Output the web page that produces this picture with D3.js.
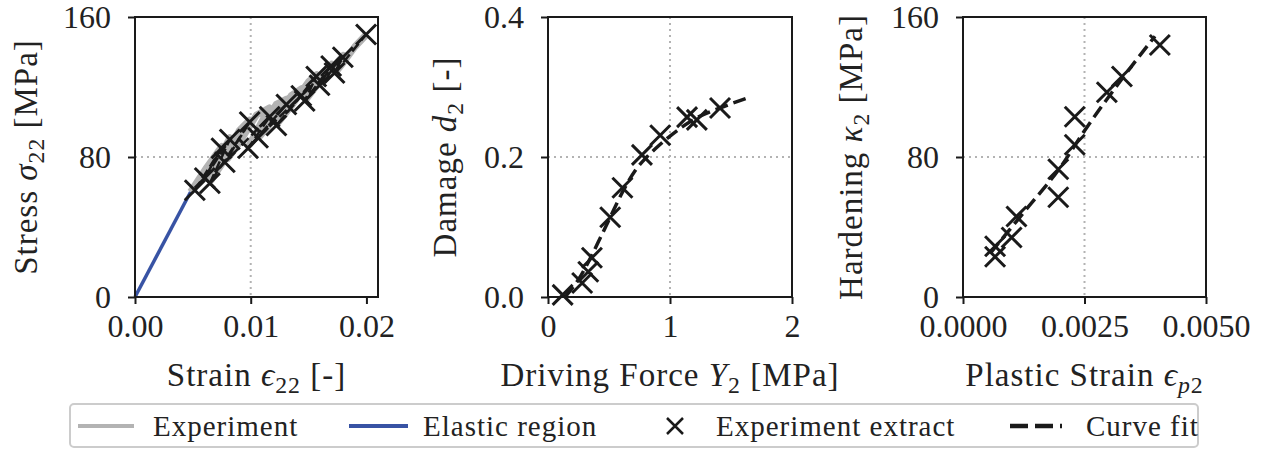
<!DOCTYPE html>
<html>
<head>
<meta charset="utf-8">
<script src="https://cdn.jsdelivr.net/npm/d3@7"></script>
<style>
  body { margin: 0; background: #fff; }
  svg text { font-family: "Liberation Serif", "DejaVu Serif", serif; fill: #222; }
</style>
</head>
<body>
<div id="chart"></div>
<script>
// Panel 1: stress-strain
const elasticStrain = [0, 0.0048];
const elasticStress = [0, 60];

const expStrain = [0.0048, 0.0062, 0.0075, 0.0064, 0.0068, 0.0082, 0.0066, 0.0075, 0.0090, 0.0099, 0.0080, 0.0088, 0.0105, 0.0116, 0.0099, 0.0108, 0.0122, 0.0131, 0.0108, 0.0118, 0.0135, 0.0144, 0.0124, 0.0136, 0.0150, 0.0157, 0.0148, 0.0156, 0.0165, 0.0170, 0.0161, 0.0168, 0.0176, 0.0180, 0.0174, 0.0180, 0.0190, 0.0200];
const expStress = [60, 74, 86, 69, 73, 91, 67, 76, 95, 101, 79, 86, 104, 108, 87, 95, 110, 113, 92, 100, 115, 119, 100, 110, 123, 127, 113, 120, 129, 133, 122, 128, 135, 138, 129, 134, 143, 150];

const extStrain = [0.00517, 0.00747, 0.00603, 0.00819, 0.00647, 0.00991, 0.00776, 0.01164, 0.00977, 0.01308, 0.01063, 0.01437, 0.01222, 0.01566, 0.01466, 0.01695, 0.01595, 0.01796, 0.01724, 0.01997];
const extStress = [61, 85, 68, 90, 65, 100, 77, 103, 85, 110, 91, 115, 98, 126, 112, 132, 121, 137, 128, 150];

// Panel 2: damage vs driving force
const dmgForce = [0.12, 0.28, 0.33, 0.36, 0.51, 0.61, 0.77, 0.92, 1.14, 1.22, 1.41];
const dmgValue = [0.003, 0.02, 0.036, 0.056, 0.114, 0.156, 0.203, 0.231, 0.257, 0.253, 0.27];
const dmgFitForce = [0.14, 0.25, 0.34, 0.43, 0.51, 0.62, 0.72, 0.81, 0.90, 0.98, 1.10, 1.22, 1.41, 1.63];
const dmgFitValue = [0.0, 0.025, 0.053, 0.085, 0.114, 0.153, 0.182, 0.200, 0.215, 0.227, 0.243, 0.256, 0.270, 0.284];

// Panel 3: hardening vs plastic strain
const hardStrain = [0.00066, 0.00066, 0.0010, 0.0011, 0.00196, 0.00196, 0.0023, 0.0023, 0.00296, 0.00327, 0.00405];
const hardValue = [23, 29, 34, 46, 57, 73, 87, 103, 117, 126, 144];
const hardFitStrain = [0.00056, 0.0013, 0.0020, 0.0025, 0.0032, 0.00395];
const hardFitValue = [25, 50, 74, 95, 122, 149];

const legendLabels = ["Experiment", "Elastic region", "Experiment extract", "Curve fit"];

const zip = (a, b) => a.map((v, i) => [v, b[i]]);

const W = 1266, H = 450;
const plotTop = 17, plotBottom = 297;
const GRAY = "#b3b3b3", BLUE = "#3853a4", INK = "#1a1a1a";
const tickFont = 32, labelFont = 33;

const svg = d3.select("#chart").append("svg")
  .attr("width", W).attr("height", H);

// write text made of pieces: plain, italic (math) and subscripts
function richText(sel, parts, size) {
  let shifted = false;
  parts.forEach(p => {
    const t = sel.append("tspan").text(p.t);
    if (p.i) t.style("font-style", "italic");
    if (p.sub) {
      t.style("font-size", (size * 0.72) + "px");
      if (!shifted) { t.attr("dy", size * 0.22); shifted = true; }
    } else if (shifted) {
      t.attr("dy", -size * 0.22); shifted = false;
    }
  });
}

function drawPanel(cfg) {
  const x = d3.scaleLinear().domain(cfg.xDomain).range([cfg.left, cfg.right]);
  const y = d3.scaleLinear().domain(cfg.yDomain).range([plotBottom, plotTop]);
  const g = svg.append("g");

  // dotted grid at middle ticks
  g.append("line")
    .attr("x1", x(cfg.xTicks[1])).attr("x2", x(cfg.xTicks[1]))
    .attr("y1", plotTop).attr("y2", plotBottom)
    .attr("stroke", GRAY).attr("stroke-width", 2).attr("stroke-dasharray", "2,4");
  g.append("line")
    .attr("x1", cfg.left).attr("x2", cfg.right)
    .attr("y1", y(cfg.yTicks[1])).attr("y2", y(cfg.yTicks[1]))
    .attr("stroke", GRAY).attr("stroke-width", 2).attr("stroke-dasharray", "2,4");

  const line = d3.line().x(d => x(d[0])).y(d => y(d[1]));

  cfg.draw(g, x, y, line);

  // frame
  g.append("rect")
    .attr("x", cfg.left).attr("y", plotTop)
    .attr("width", cfg.right - cfg.left).attr("height", plotBottom - plotTop)
    .attr("fill", "none").attr("stroke", INK).attr("stroke-width", 2);

  // axes
  const xAxis = g.append("g").attr("transform", `translate(0,${plotBottom})`)
    .call(d3.axisBottom(x).tickValues(cfg.xTicks).tickFormat(cfg.xFmt).tickSize(7).tickPadding(10));
  const yAxis = g.append("g").attr("transform", `translate(${cfg.left},0)`)
    .call(d3.axisLeft(y).tickValues(cfg.yTicks).tickFormat(cfg.yFmt).tickSize(7).tickPadding(17));
  [xAxis, yAxis].forEach(a => {
    a.attr("font-family", null);
    a.select(".domain").remove();
    a.selectAll("line").attr("stroke", INK).attr("stroke-width", 2);
    a.selectAll("text").style("font-size", tickFont + "px").attr("fill", "#222");
  });

  // axis titles
  const xl = g.append("text")
    .attr("x", (cfg.left + cfg.right) / 2).attr("y", 386)
    .attr("text-anchor", "middle").style("font-size", labelFont + "px")
    .style("letter-spacing", "1px");
  richText(xl, cfg.xLabel, labelFont);

  const yl = g.append("text")
    .attr("transform", `translate(${cfg.yLabelX},${(plotTop + plotBottom) / 2}) rotate(-90)`)
    .attr("text-anchor", "middle").style("font-size", labelFont + "px")
    .style("letter-spacing", "1px");
  richText(yl, cfg.yLabel, labelFont);
}

function crosses(g, pts, x, y) {
  const s = 10;
  g.selectAll(null).data(pts).enter().append("path")
    .attr("d", d => {
      const cx = x(d[0]), cy = y(d[1]);
      return `M${cx - s},${cy - s}L${cx + s},${cy + s}M${cx - s},${cy + s}L${cx + s},${cy - s}`;
    })
    .attr("stroke", INK).attr("stroke-width", 3).attr("fill", "none");
}

function fitLine(g, pts, line) {
  g.append("path").datum(pts)
    .attr("d", line.curve(d3.curveMonotoneX))
    .attr("fill", "none").attr("stroke", INK)
    .attr("stroke-width", 3.5).attr("stroke-dasharray", "13,6");
}

drawPanel({
  left: 135, right: 378,
  xDomain: [0, 0.021], yDomain: [0, 160],
  xTicks: [0, 0.01, 0.02], yTicks: [0, 80, 160],
  xFmt: d3.format(".2f"), yFmt: d3.format("d"),
  xLabel: [{ t: "Strain " }, { t: "\u03f5", i: true }, { t: "22", sub: true }, { t: " [-]" }],
  yLabel: [{ t: "Stress " }, { t: "\u03c3", i: true }, { t: "22", sub: true }, { t: " [MPa]" }],
  yLabelX: 37,
  draw: (g, x, y, line) => {
    g.append("path").datum(zip(expStrain, expStress))
      .attr("d", line).attr("fill", "none").attr("stroke", GRAY)
      .attr("stroke-width", 7).attr("stroke-linejoin", "round");
    g.append("path").datum(zip(elasticStrain, elasticStress))
      .attr("d", line).attr("fill", "none").attr("stroke", BLUE).attr("stroke-width", 3.5);
    g.append("path").datum(zip(extStrain, extStress))
      .attr("d", line).attr("fill", "none").attr("stroke", INK)
      .attr("stroke-width", 2.5).attr("stroke-dasharray", "10,4");
    crosses(g, zip(extStrain, extStress), x, y);
  }
});

drawPanel({
  left: 548, right: 792,
  xDomain: [0, 2], yDomain: [0, 0.4],
  xTicks: [0, 1, 2], yTicks: [0, 0.2, 0.4],
  xFmt: d3.format("d"), yFmt: d3.format(".1f"),
  xLabel: [{ t: "Driving Force " }, { t: "Y", i: true }, { t: "2", sub: true }, { t: " [MPa]" }],
  yLabel: [{ t: "Damage " }, { t: "d", i: true }, { t: "2", sub: true }, { t: " [-]" }],
  yLabelX: 456,
  draw: (g, x, y, line) => {
    crosses(g, zip(dmgForce, dmgValue), x, y);
    fitLine(g, zip(dmgFitForce, dmgFitValue), line);
  }
});

drawPanel({
  left: 963, right: 1206,
  xDomain: [0, 0.005], yDomain: [0, 160],
  xTicks: [0, 0.0025, 0.005], yTicks: [0, 80, 160],
  xFmt: d3.format(".4f"), yFmt: d3.format("d"),
  xLabel: [{ t: "Plastic Strain " }, { t: "\u03f5", i: true }, { t: "p", sub: true, i: true }, { t: "2", sub: true }],
  yLabel: [{ t: "Hardening " }, { t: "\u03ba", i: true }, { t: "2", sub: true }, { t: " [MPa]" }],
  yLabelX: 862,
  draw: (g, x, y, line) => {
    crosses(g, zip(hardStrain, hardValue), x, y);
    fitLine(g, zip(hardFitStrain, hardFitValue), line);
  }
});

// legend
const lg = svg.append("g");
lg.append("rect").attr("x", 70).attr("y", 404).attr("width", 1128).attr("height", 43)
  .attr("rx", 4).attr("fill", "#fff").attr("stroke", "#cccccc").attr("stroke-width", 2);
const ly = 426;
const legendItems = [
  { x0: 78, x1: 134, tx: 153, kind: "gray" },
  { x0: 349, x1: 408, tx: 423, kind: "blue" },
  { x0: 664, x1: 686, tx: 716, kind: "cross" },
  { x0: 1010, x1: 1062, tx: 1086, kind: "dash" }
];
legendItems.forEach((it, i) => {
  if (it.kind === "cross") {
    const cx = (it.x0 + it.x1) / 2, s = 8;
    lg.append("path")
      .attr("d", `M${cx - s},${ly - s}L${cx + s},${ly + s}M${cx - s},${ly + s}L${cx + s},${ly - s}`)
      .attr("stroke", INK).attr("stroke-width", 2.5);
  } else {
    lg.append("line").attr("x1", it.x0).attr("x2", it.x1).attr("y1", ly).attr("y2", ly)
      .attr("stroke", it.kind === "gray" ? GRAY : it.kind === "blue" ? BLUE : INK)
      .attr("stroke-width", it.kind === "dash" ? 4.5 : 4)
      .attr("stroke-dasharray", it.kind === "dash" ? "18,7" : null);
  }
  lg.append("text").attr("x", it.tx).attr("y", ly + 10)
    .style("font-size", "29px").style("letter-spacing", "1px").text(legendLabels[i]);
});
</script>
</body>
</html>
